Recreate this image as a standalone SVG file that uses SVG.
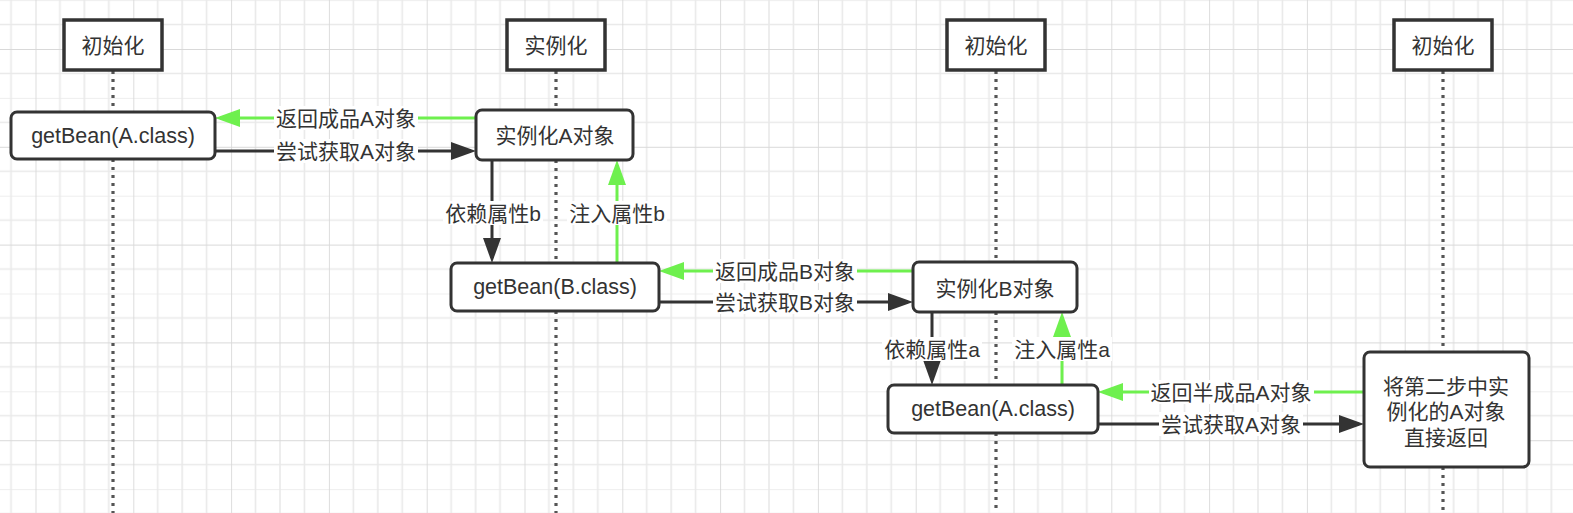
<svg xmlns="http://www.w3.org/2000/svg" width="1573" height="513" viewBox="0 0 1573 513">
<style>
.t{font-family:"Liberation Sans","Noto Sans CJK SC",sans-serif;font-size:21px;fill:#333;text-anchor:middle;dominant-baseline:central}
.g{font-size:21.5px}
.hdr{fill:#fff;stroke:#333;stroke-width:3.5}
.nd{fill:#fff;stroke:#333;stroke-width:3}
.life{stroke:#555;stroke-width:3.2;stroke-dasharray:3 5;fill:none}
.blk{stroke:#333;stroke-width:3;fill:none}
.grn{stroke:#6ef04e;stroke-width:3;fill:none}
.lbg{fill:#fff}
</style>
<defs>
<pattern id="grid" patternUnits="userSpaceOnUse" x="35.5" y="0.1" width="97.8" height="97.8">
<path d="M24.45 0V97.8M48.9 0V97.8M73.35 0V97.8M0 0H97.8M0 24.45H97.8M0 73.35H97.8" stroke="#e9e9e9" stroke-width="1.6" fill="none"/>
<path d="M0 0V97.8" stroke="#d9d9d9" stroke-width="1.8" fill="none"/>
</pattern>
<pattern id="gridH" patternUnits="userSpaceOnUse" x="0" y="49" width="97.8" height="97.8">
<path d="M0 0H97.8" stroke="#d9d9d9" stroke-width="1.8" fill="none"/>
</pattern>
<marker id="ab" markerUnits="userSpaceOnUse" markerWidth="26" markerHeight="18" refX="20" refY="9" orient="auto">
<path d="M0 0L25 9L0 18Z" fill="#333"/>
</marker>
<marker id="ag" markerUnits="userSpaceOnUse" markerWidth="26" markerHeight="18" refX="20" refY="9" orient="auto">
<path d="M0 0L25 9L0 18Z" fill="#6ef04e"/>
</marker>
</defs>
<rect width="1573" height="513" fill="#fff"/>
<rect width="1573" height="513" fill="url(#grid)"/>
<rect width="1573" height="513" fill="url(#gridH)"/>

<g id="lifelines">
<path class="life" d="M113 71V112M113 159V513"/>
<path class="life" d="M556 71V110M556 160V263M556 311V513"/>
<path class="life" d="M996 71V262M996 312V385M996 433V513"/>
<path class="life" d="M1443 71V352M1443 467V513"/>
</g>

<g id="connectors">
<line class="grn" x1="476" y1="118" x2="220" y2="118" marker-end="url(#ag)"/>
<line class="blk" x1="215" y1="151" x2="471" y2="151" marker-end="url(#ab)"/>
<line class="blk" x1="492" y1="160" x2="492" y2="258" marker-end="url(#ab)"/>
<line class="grn" x1="617" y1="263" x2="617" y2="165" marker-end="url(#ag)"/>
<line class="grn" x1="913" y1="271" x2="664" y2="271" marker-end="url(#ag)"/>
<line class="blk" x1="659" y1="302" x2="908" y2="302" marker-end="url(#ab)"/>
<line class="blk" x1="932" y1="312" x2="932" y2="380" marker-end="url(#ab)"/>
<line class="grn" x1="1062" y1="385" x2="1062" y2="317" marker-end="url(#ag)"/>
<line class="grn" x1="1364" y1="392" x2="1103" y2="392" marker-end="url(#ag)"/>
<line class="blk" x1="1098" y1="424" x2="1359" y2="424" marker-end="url(#ab)"/>

<rect class="lbg" x="274" y="106" width="144" height="24"/><text class="t" x="346" y="118">返回成品A对象</text>
<rect class="lbg" x="274" y="139" width="144" height="24"/><text class="t" x="346" y="151">尝试获取A对象</text>
<rect class="lbg" x="443" y="201" width="100" height="24"/><text class="t" x="493" y="213">依赖属性b</text>
<rect class="lbg" x="567" y="201" width="100" height="24"/><text class="t" x="617" y="213">注入属性b</text>
<rect class="lbg" x="713" y="259" width="144" height="24"/><text class="t" x="785" y="271">返回成品B对象</text>
<rect class="lbg" x="713" y="290" width="144" height="24"/><text class="t" x="785" y="302">尝试获取B对象</text>
<rect class="lbg" x="882" y="337" width="100" height="24"/><text class="t" x="932" y="349">依赖属性a</text>
<rect class="lbg" x="1012" y="337" width="100" height="24"/><text class="t" x="1062" y="349">注入属性a</text>
<rect class="lbg" x="1149" y="380" width="165" height="24"/><text class="t" x="1231" y="392">返回半成品A对象</text>
<rect class="lbg" x="1159" y="412" width="144" height="24"/><text class="t" x="1231" y="424">尝试获取A对象</text>
</g>

<g id="h1"><rect class="hdr" x="64" y="20" width="98" height="50"/><text class="t" x="113" y="45">初始化</text></g>
<g id="h2"><rect class="hdr" x="507" y="20" width="98" height="50"/><text class="t" x="556" y="45">实例化</text></g>
<g id="h3"><rect class="hdr" x="947" y="20" width="98" height="50"/><text class="t" x="996" y="45">初始化</text></g>
<g id="h4"><rect class="hdr" x="1394" y="20" width="98" height="50"/><text class="t" x="1443" y="45">初始化</text></g>

<g id="getBeanA1"><rect class="nd" x="11" y="112" width="204" height="47" rx="6"/><text class="t g" x="113" y="136">getBean(A.class)</text></g>
<g id="instA"><rect class="nd" x="476" y="110" width="157" height="50" rx="6"/><text class="t" x="555" y="135">实例化A对象</text></g>
<g id="getBeanB"><rect class="nd" x="451" y="263" width="208" height="48" rx="6"/><text class="t g" x="555" y="287">getBean(B.class)</text></g>
<g id="instB"><rect class="nd" x="913" y="262" width="164" height="50" rx="6"/><text class="t" x="995" y="288">实例化B对象</text></g>
<g id="getBeanA2"><rect class="nd" x="888" y="385" width="210" height="48" rx="6"/><text class="t g" x="993" y="409">getBean(A.class)</text></g>
<g id="early"><rect class="nd" x="1364" y="352" width="165" height="115" rx="6"/>
<text class="t" x="1446" y="386">将第二步中实</text>
<text class="t" x="1446" y="411">例化的A对象</text>
<text class="t" x="1446" y="437">直接返回</text></g>
</svg>
